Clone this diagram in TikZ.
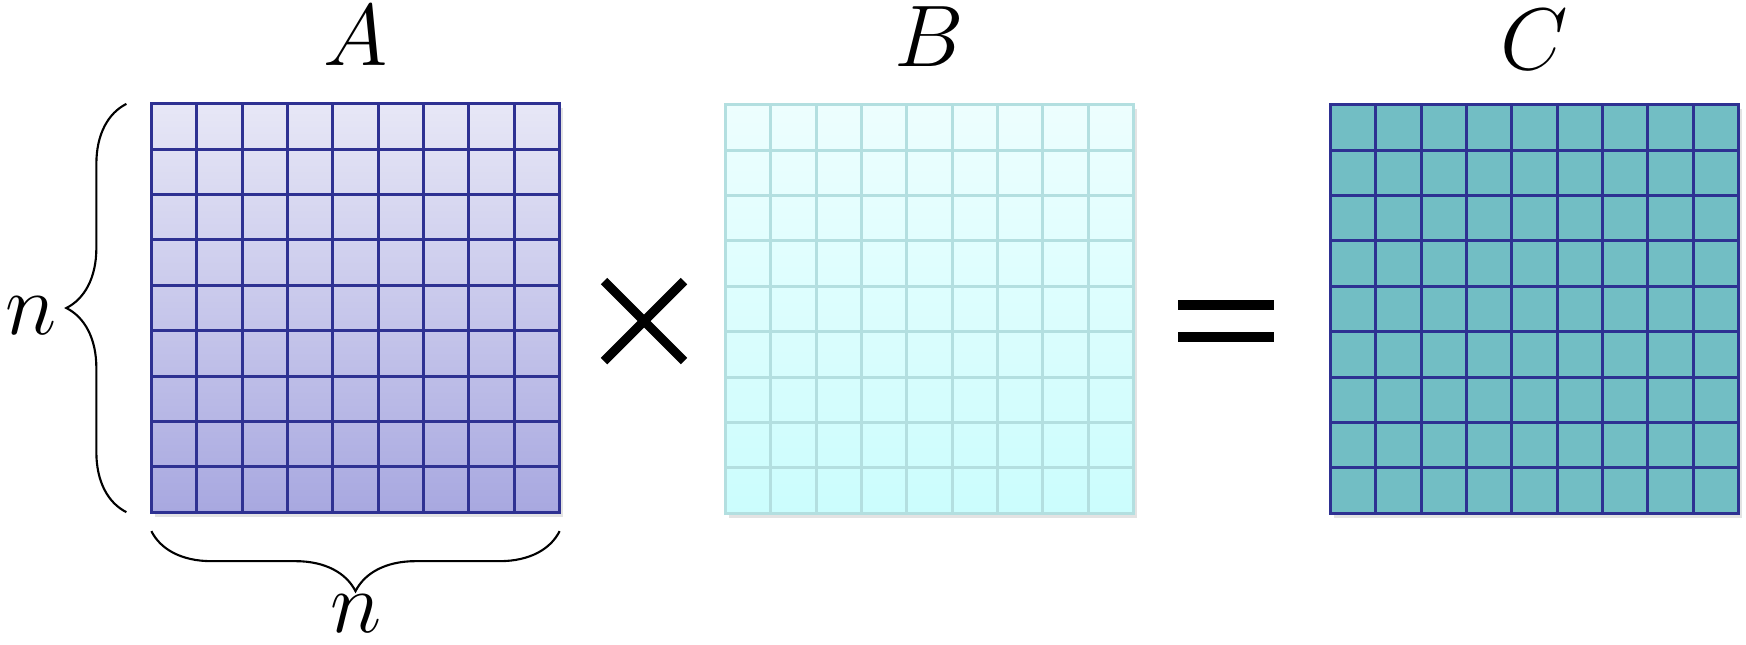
\documentclass[tikz,border=0pt]{standalone}
\usetikzlibrary{positioning, decorations.pathreplacing, shadows, calc}
\definecolor{cnavy}{HTML}{2E3192}
\definecolor{clavtop}{HTML}{E7E7F6}
\definecolor{clavbot}{HTML}{A8A8E0}
\definecolor{caquatop}{HTML}{EDFEFE}
\definecolor{caquabot}{HTML}{CBFDFD}
\definecolor{caqualine}{HTML}{B3DFE0}
\definecolor{cteal}{HTML}{72BEC4}
\tikzset{
  every picture/.style={line width=0.85pt},
  mat/.style={minimum width=4.08cm, minimum height=4.08cm, inner sep=0pt, outer sep=0pt,
    drop shadow={shadow xshift=0.035cm, shadow yshift=-0.045cm, opacity=0.22}},
  lbl/.style={font=\fontsize{24}{28}\selectfont, inner sep=0pt},
  curly/.style={decorate, decoration={brace, amplitude=0.6cm}, line width=0.6pt},
  op/.style={line width=2.6pt},
}
\newcommand{\matgrid}[2]{%
  \foreach \k in {1,...,8} {
    \draw[#2] ($(#1.north west)!\k/9!(#1.north east)$) -- ($(#1.south west)!\k/9!(#1.south east)$);
    \draw[#2] ($(#1.north west)!\k/9!(#1.south west)$) -- ($(#1.north east)!\k/9!(#1.south east)$);
  }
  \draw[#2] (#1.north west) rectangle (#1.south east);
}

\begin{document}
\begin{tikzpicture}[x=0.01cm, y=-0.01cm]
  \useasboundingbox (0,0) rectangle (1746,644);
  % the three matrices
  \node[mat, top color=clavtop, bottom color=clavbot] (A) at (355.5,308) {};
  \matgrid{A}{cnavy}
  \node[mat, top color=caquatop, bottom color=caquabot] (B) at (929.5,309) {};
  \matgrid{B}{caqualine}
  \node[mat, fill=cteal] (C) at (1534.5,309) {};
  \matgrid{C}{cnavy}
  \node[lbl, above=0.37cm of A] (labA) {$A$};
  \node[lbl, above=0.37cm of B] (labB) {$B$};
  \node[lbl, above=0.34cm of C] (labC) {$C$};
  % operators
  \coordinate (times) at (644,321);
  \draw[op] ($(times)+(-40,-40)$) -- ($(times)+(40,40)$);
  \draw[op] ($(times)+(-40,40)$) -- ($(times)+(40,-40)$);
  \fill (1178,300) rectangle (1274,310);
  \fill (1178,332) rectangle (1274,342);
  % size braces
  \draw[curly] ($(A.south west)+(-25,0)$) -- ($(A.north west)+(-25,0)$);
  \draw[curly] ($(A.south east)+(0,19)$) -- ($(A.south west)+(0,19)$);
  \node[lbl, font=\fontsize{26}{30}\selectfont] (nrow) at (31,316) {$n$};
  \node[lbl, font=\fontsize{26}{30}\selectfont] (ncol) at (356,614) {$n$};
\end{tikzpicture}
\end{document}
